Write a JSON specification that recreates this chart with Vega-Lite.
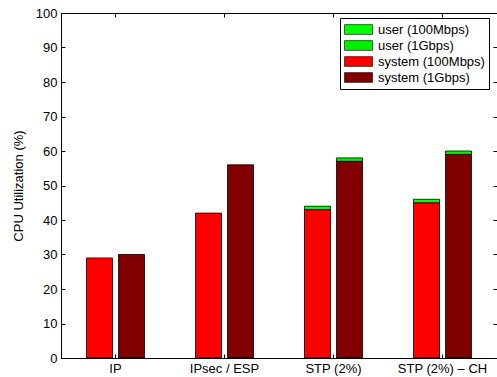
{
  "$schema": "https://vega.github.io/schema/vega-lite/v6.json",
  "autosize": "none",
  "width": 436,
  "height": 345,
  "padding": {"left": 61, "top": 13, "right": 0, "bottom": 19},
  "background": "white",
  "config": {
    "font": "Liberation Sans",
    "view": {"stroke": "black", "strokeWidth": 1},
    "axis": {"labelFont": "Liberation Sans", "titleFont": "Liberation Sans", "labelFontSize": 13, "titleFontSize": 13, "labelColor": "black", "titleColor": "black", "domainColor": "black", "tickColor": "black", "grid": false, "titleFontWeight": "normal"}
  },
  "data": {
    "values": [
      {"cat": "IP", "speed": "100Mbps", "series": "system (100Mbps)", "ord": 1, "value": 29},
      {"cat": "IP", "speed": "1Gbps", "series": "system (1Gbps)", "ord": 1, "value": 30},
      {"cat": "IPsec / ESP", "speed": "100Mbps", "series": "system (100Mbps)", "ord": 1, "value": 42},
      {"cat": "IPsec / ESP", "speed": "1Gbps", "series": "system (1Gbps)", "ord": 1, "value": 56},
      {"cat": "STP (2%)", "speed": "100Mbps", "series": "system (100Mbps)", "ord": 1, "value": 43},
      {"cat": "STP (2%)", "speed": "100Mbps", "series": "user (100Mbps)", "ord": 2, "value": 1},
      {"cat": "STP (2%)", "speed": "1Gbps", "series": "system (1Gbps)", "ord": 1, "value": 57},
      {"cat": "STP (2%)", "speed": "1Gbps", "series": "user (1Gbps)", "ord": 2, "value": 1},
      {"cat": "STP (2%) – CH", "speed": "100Mbps", "series": "system (100Mbps)", "ord": 1, "value": 45},
      {"cat": "STP (2%) – CH", "speed": "100Mbps", "series": "user (100Mbps)", "ord": 2, "value": 1},
      {"cat": "STP (2%) – CH", "speed": "1Gbps", "series": "system (1Gbps)", "ord": 1, "value": 59},
      {"cat": "STP (2%) – CH", "speed": "1Gbps", "series": "user (1Gbps)", "ord": 2, "value": 1}
    ]
  },
  "encoding": {
    "x": {"field": "cat", "type": "nominal", "sort": null,
          "scale": {"paddingInner": 0, "paddingOuter": 0}},
    "xOffset": {"field": "speed", "type": "nominal", "sort": ["100Mbps", "1Gbps"],
                "scale": {"paddingInner": 0.1875, "paddingOuter": 0.797}},
    "y": {"field": "value", "type": "quantitative", "stack": "zero",
          "scale": {"domain": [0, 100], "nice": false}},
    "order": {"field": "ord", "type": "quantitative", "sort": "ascending"},
    "color": {"field": "series", "type": "nominal",
              "scale": {"domain": ["user (100Mbps)", "user (1Gbps)", "system (100Mbps)", "system (1Gbps)"],
                        "range": ["#00ff00", "#00f000", "#ff0000", "#800000"]},
              "legend": {"title": null, "orient": "none", "legendX": 279, "legendY": 5,
                         "symbolType": "M-1,-0.7L3,-0.7L3,0.7L-1,0.7Z", "symbolSize": 196,
                         "symbolStrokeColor": "black", "symbolStrokeWidth": 0.6,
                         "labelFontSize": 13, "labelColor": "black", "labelOffset": 19,
                         "rowPadding": 1, "padding": 4, "strokeColor": "black", "fillColor": "white",
                         "cornerRadius": 0}}
  },
  "layer": [
    {
      "mark": {"type": "bar", "stroke": "black", "strokeWidth": 0.8},
      "encoding": {
        "x": {"field": "cat", "type": "nominal", "sort": null,
              "axis": {"title": null, "labelAngle": 0, "tickSize": -4, "labelPadding": 8, "orient": "bottom"}},
        "y": {"field": "value", "type": "quantitative", "stack": "zero",
              "axis": {"title": "CPU Utilization (%)", "values": [0,10,20,30,40,50,60,70,80,90,100], "tickSize": -4, "labelPadding": 8, "titlePadding": 10, "orient": "left"}}
      }
    },
    {
      "mark": {"type": "bar", "opacity": 0},
      "encoding": {
        "x": {"field": "cat", "type": "nominal", "sort": null,
              "axis": {"title": null, "labels": false, "tickSize": -4, "orient": "top"}},
        "y": {"field": "value", "type": "quantitative", "stack": "zero",
              "axis": {"title": null, "labels": false, "values": [0,10,20,30,40,50,60,70,80,90,100], "tickSize": -4, "orient": "right"}}
      }
    }
  ],
  "resolve": {"axis": {"x": "independent", "y": "independent"}}
}
